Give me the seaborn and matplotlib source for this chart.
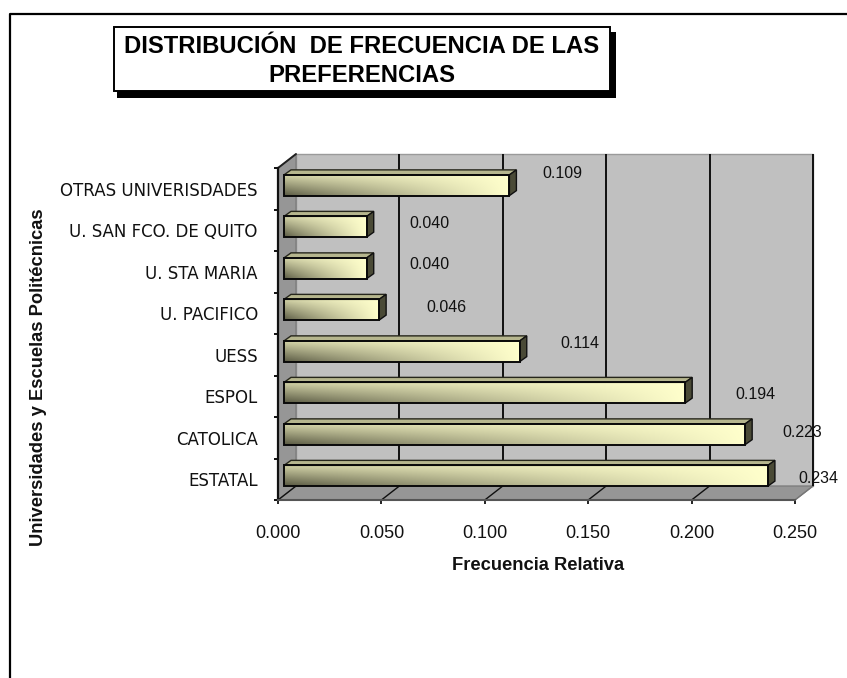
import numpy as np
import matplotlib
matplotlib.use("Agg")
import matplotlib.pyplot as plt
from matplotlib.patches import Polygon, Rectangle
from matplotlib.transforms import Affine2D, IdentityTransform
import seaborn as sns

categories = ["OTRAS UNIVERISDADES", "U. SAN FCO. DE QUITO", "U. STA MARIA", "U. PACIFICO",
              "UESS", "ESPOL", "CATOLICA", "ESTATAL"]
values = [0.109, 0.040, 0.040, 0.046, 0.114, 0.194, 0.223, 0.234]
value_labels = ["0.109", "0.040", "0.040", "0.046", "0.114", "0.194", "0.223", "0.234"]
label_shift_px = [(53, 15), (63, 7), (63, 7), (67, 6), (60, 11), (70, 2), (57, 5), (50, 1)]
x_ticks = [0.0, 0.05, 0.10, 0.15, 0.20, 0.25]

W, H = 847, 678
sns.set_theme(style="white")
plt.rcParams["font.family"] = ["Liberation Sans", "DejaVu Sans"]
fig = plt.figure(figsize=(W / 100, H / 100), dpi=100, facecolor="white")
L, R, T, B = 278, 795, 168, 500
ax = fig.add_axes([L / W, 1 - B / H, (R - L) / W, (B - T) / H])
ax.patch.set_alpha(0)

sns.barplot(x=values, y=categories, orient="h", width=0.5, color="#ffffcc",
            saturation=1, ax=ax, zorder=4)
bars = list(ax.patches)
ax.set_xlim(0, 0.25)
ax.set_ylim(7.5, -0.5)

def shifted(dx, dy):
    return ax.transData + Affine2D().translate(dx, dy)

def to_disp(x, y, dx=0, dy=0):
    p = ax.transData.transform((x, y))
    return (p[0] + dx, p[1] + dy)

# walls and floor, in pixel offsets from the front plane
wall_dx, wall_dy = 18, 14
back = shifted(wall_dx, wall_dy)
ax.add_patch(Rectangle((0, -0.5), 0.25, 8, transform=back, fc="#c0c0c0", ec="#9a9a9a", lw=1,
                       zorder=0.5, clip_on=False))
floor = [to_disp(0, 7.5), to_disp(0.25, 7.5), to_disp(0.25, 7.5, wall_dx, wall_dy), to_disp(0, 7.5, wall_dx, wall_dy)]
left = [to_disp(0, 7.5), to_disp(0, -0.5), to_disp(0, -0.5, wall_dx, wall_dy), to_disp(0, 7.5, wall_dx, wall_dy)]
for poly in (floor, left):
    ax.add_patch(Polygon(poly, closed=True, transform=IdentityTransform(), fc="#969696", ec="#777777",
                         lw=0.8, zorder=0.6, clip_on=False))
a, b = to_disp(0, -0.5), to_disp(0, -0.5, wall_dx, wall_dy)
ax.plot([a[0], b[0]], [a[1], b[1]], transform=IdentityTransform(), color="#202020", lw=1.4, zorder=1, clip_on=False)
a, b = to_disp(0.25, 7.5), to_disp(0.25, 7.5, wall_dx, wall_dy)
ax.plot([a[0], b[0]], [a[1], b[1]], transform=IdentityTransform(), color="#777777", lw=1, zorder=1, clip_on=False)

for xt in x_ticks[1:]:
    ax.plot([xt, xt], [-0.5, 7.5], transform=back, color="#101010", lw=1.4, zorder=1, clip_on=False, solid_capstyle="butt")
for xt in x_ticks[:-1]:
    a, b = to_disp(xt, 7.5), to_disp(xt, 7.5, wall_dx, wall_dy)
    ax.plot([a[0], b[0]], [a[1], b[1]], transform=IdentityTransform(), color="#101010", lw=1.0, zorder=1, clip_on=False)

# bars with shaded faces
bar_dx, bar_dy = 6, 3.5
depth_x, depth_y = 7, 5
bar_tr = shifted(bar_dx, bar_dy)
nx, ny = 200, 30
xx, yy = np.meshgrid(np.linspace(0, 1, nx), np.linspace(0, 1, ny))
dark = np.array([0x4e, 0x4e, 0x3a]) / 255
light = np.array([0xff, 0xff, 0xcc]) / 255
for bar in bars:
    x0, y0, w, h = bar.get_x(), bar.get_y(), bar.get_width(), bar.get_height()
    bar.set_transform(bar_tr)
    bar.set_edgecolor("#0a0a0a")
    bar.set_linewidth(1.4)
    bar.set_facecolor("none")
    bar.set_zorder(5)
    t = 1 - (1 - xx ** 0.85) * (0.94 - 0.68 * (1 - yy))
    img = dark + (light - dark) * t[..., None]
    im = ax.imshow(img, extent=(x0, x0 + w, y0 + h, y0), transform=bar_tr, aspect="auto",
                   interpolation="bilinear", zorder=4)
    im.set_clip_path(bar)
    tl, tr, br = to_disp(x0, y0, bar_dx, bar_dy), to_disp(x0 + w, y0, bar_dx, bar_dy), to_disp(x0 + w, y0 + h, bar_dx, bar_dy)
    top = [tl, tr, (tr[0] + depth_x, tr[1] + depth_y), (tl[0] + depth_x, tl[1] + depth_y)]
    side = [tr, br, (br[0] + depth_x, br[1] + depth_y), (tr[0] + depth_x, tr[1] + depth_y)]
    ax.add_patch(Polygon(top, closed=True, transform=IdentityTransform(), fc="#b6b68e", ec="#26261c", lw=1.0, zorder=4.5, clip_on=False))
    ax.add_patch(Polygon(side, closed=True, transform=IdentityTransform(), fc="#4a4a36", ec="#101010", lw=1.0, zorder=4.5, clip_on=False))

ax.set_xlim(0, 0.25)
ax.set_ylim(7.5, -0.5)
ax.grid(False)

# value labels
for i, (v, txt, sh) in enumerate(zip(values, value_labels, label_shift_px)):
    ax.annotate(txt, xy=(v, i), xycoords="data", xytext=(sh[0] * 0.72 + bar_dx * 0.72, sh[1] * 0.72),
                textcoords="offset points", ha="center", va="center", fontsize=11.5, color="#111111",
                zorder=6, annotation_clip=False)

# axes
for s in ("top", "right"):
    ax.spines[s].set_visible(False)
ax.spines["left"].set_color("#111111")
ax.spines["left"].set_linewidth(1.6)
ax.spines["left"].set_zorder(2)
ax.spines["bottom"].set_color("#555555")
ax.spines["bottom"].set_linewidth(1.5)
ax.spines["bottom"].set_zorder(2)
ax.set_xticks(x_ticks)
ax.set_xticklabels([f"{t:.3f}" for t in x_ticks], fontsize=13, color="#111111")
ax.tick_params(axis="x", length=3.2, width=1.3, color="#111111", pad=15, bottom=True)
ax.set_yticks(range(len(categories)))
ax.set_yticklabels(categories, fontsize=12, family="DejaVu Sans", color="#111111")
ax.tick_params(axis="y", which="major", length=0, pad=14.5)
ax.set_yticks(np.arange(-0.5, 8), minor=True)
ax.tick_params(axis="y", which="minor", length=3.2, width=1.4, color="#111111", left=True)
ax.set_xlabel("Frecuencia Relativa", fontsize=13.2, fontweight="bold", color="#111111")
ax.xaxis.set_label_coords((538 - L) / (R - L), (B - 565) / (B - T), transform=ax.transAxes)
ax.xaxis.label.set_va("center")
ax.set_ylabel("Universidades y Escuelas Politécnicas", fontsize=13.2, fontweight="bold", color="#111111")
ax.yaxis.set_label_coords((38 - L) / (R - L), (B - 377) / (B - T), transform=ax.transAxes)
ax.yaxis.label.set_va("center")

# page frame and title box
def fx(p): return p / W
def fy(p): return 1 - p / H
fig.add_artist(plt.Line2D([fx(9.5), fx(9.5), 1], [0, fy(14), fy(14)], color="black", lw=1.6,
                          transform=fig.transFigure))
fig.add_artist(Rectangle((fx(117), fy(98)), (616 - 117) / W, (98 - 32) / H, transform=fig.transFigure,
                         fc="black", ec="black", lw=0))
fig.add_artist(Rectangle((fx(113.5), fy(91)), (609.5 - 113.5) / W, (91 - 27) / H, transform=fig.transFigure,
                         fc="white", ec="black", lw=1.4))
fig.text(fx(362), fy(53), "DISTRIBUCIÓN  DE FRECUENCIA DE LAS", ha="center", va="baseline",
         fontsize=17.2, fontweight="bold", color="black")
fig.text(fx(362), fy(82), "PREFERENCIAS", ha="center", va="baseline",
         fontsize=17.2, fontweight="bold", color="black")

fig.savefig("out.png", dpi=100, facecolor="white")
